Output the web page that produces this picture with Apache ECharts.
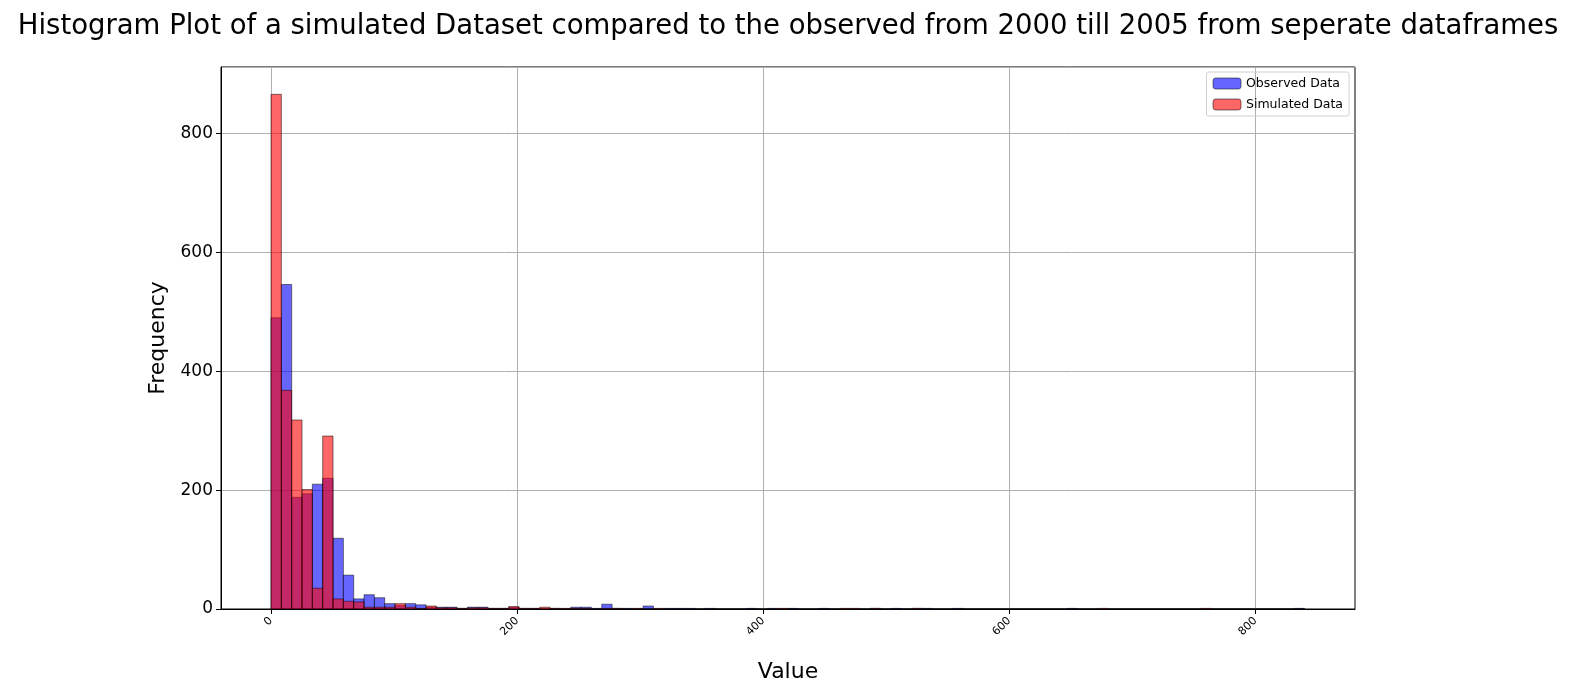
<!DOCTYPE html>
<html><head><meta charset="utf-8">
<script src="https://cdn.jsdelivr.net/npm/echarts@6/dist/echarts.min.js"></script>
<style>html,body{margin:0;padding:0;background:#fff}#c{width:1576px;height:691px}</style>
</head><body><div id="c"></div>
<script>
const binStart = 0, binWidth = 8.4, binCount = 100;
const xTicks = [0,200,400,600,800];
const observedSparse = {0:490,1:546,2:188,3:194,4:210,5:220,6:119,7:57,8:17,9:24,10:19,11:9,12:6,13:9,14:7,15:3,16:3,17:3,18:1,19:3,20:3,21:1,22:1,23:3,24:1,25:1,27:1,29:3,30:3,31:1,32:8,33:1,34:1,36:5,38:1,39:1,40:1,42:1,46:1,48:1,50:1,53:1,58:1,60:1,62:1,63:1,66:1,77:1,99:1};
const simulatedSparse = {0:866,1:368,2:318,3:201,4:35,5:291,6:17,7:13,8:12,9:3,10:3,11:3,12:9,13:3,14:1,15:5,16:2,17:2,18:1,19:2,20:2,21:1,22:1,23:4,24:1,25:1,26:3,27:1,28:1,29:1,30:1,32:1,33:1,35:1,37:1,49:1,55:1,56:1,58:1,62:1,80:1,90:1};
function toBins(sp){const a=[];for(let i=0;i<binCount;i++){a.push([binStart+i*binWidth,binStart+(i+1)*binWidth,sp[i]||0]);}return a;}
const observed = toBins(observedSparse), simulated = toBins(simulatedSparse);
function ri(color){return function(params,api){const a=api.coord([api.value(0),api.value(2)]);const b=api.coord([api.value(1),0]);
return {type:'rect',shape:{x:a[0],y:a[1],width:b[0]-a[0],height:b[1]-a[1]},style:{fill:color,stroke:'rgba(0,0,0,0.5)',lineWidth:1}};};}
const chart = echarts.init(document.getElementById('c'));
chart.setOption({
  animation:false,
  title:{text:'Histogram Plot of a simulated Dataset compared to the observed from 2000 till 2005 from seperate dataframes',left:'center',top:8,textStyle:{fontSize:27.5,fontWeight:'normal',color:'#000',fontFamily:'DejaVu Sans'}},
  legend:{right:227,top:72,orient:'vertical',itemWidth:28,itemHeight:11,itemGap:8,textStyle:{fontSize:12.5,color:'#000',fontFamily:'DejaVu Sans'},borderColor:'#d0d0d0',borderWidth:1,borderRadius:2,padding:[5,6],
    data:[{name:'Observed Data',itemStyle:{color:'rgba(0,0,255,0.6)',borderColor:'rgba(0,0,0,0.5)',borderWidth:1}},{name:'Simulated Data',itemStyle:{color:'rgba(255,0,0,0.6)',borderColor:'rgba(0,0,0,0.5)',borderWidth:1}}]},
  grid:{left:221,right:221,top:67,bottom:82,show:true,borderColor:'#000',borderWidth:1,backgroundColor:'transparent'},
  xAxis:{type:'value',min:-40.65,max:881,name:'Value',nameLocation:'middle',nameGap:52,nameTextStyle:{fontSize:22,fontFamily:'DejaVu Sans',color:'#000'},
    axisLine:{show:true,onZero:false,lineStyle:{color:'#000'}},axisTick:{show:true,customValues:xTicks,length:5,lineStyle:{color:'#000'}},
    axisLabel:{rotate:45,fontSize:11,color:'#000',fontFamily:'DejaVu Sans',customValues:xTicks,margin:10},
    splitLine:{show:true,lineStyle:{color:'#b0b0b0'}}},
  yAxis:{type:'value',min:0,max:912,interval:200,name:'Frequency',nameLocation:'middle',nameGap:52,nameTextStyle:{fontSize:22,fontFamily:'DejaVu Sans',color:'#000'},
    axisLine:{show:true,onZero:false,lineStyle:{color:'#000'}},axisTick:{show:true,length:5,lineStyle:{color:'#000'}},
    axisLabel:{fontSize:17,color:'#000',fontFamily:'DejaVu Sans',showMaxLabel:false},
    splitLine:{show:true,lineStyle:{color:'#b0b0b0'}}},
  series:[
    {name:'Observed Data',type:'custom',renderItem:ri('rgba(0,0,255,0.6)'),encode:{x:[0,1],y:2},data:observed,itemStyle:{color:'rgba(0,0,255,0.6)'}},
    {name:'Simulated Data',type:'custom',renderItem:ri('rgba(255,0,0,0.6)'),encode:{x:[0,1],y:2},data:simulated,itemStyle:{color:'rgba(255,0,0,0.6)'}}
  ]
});
</script></body></html>
